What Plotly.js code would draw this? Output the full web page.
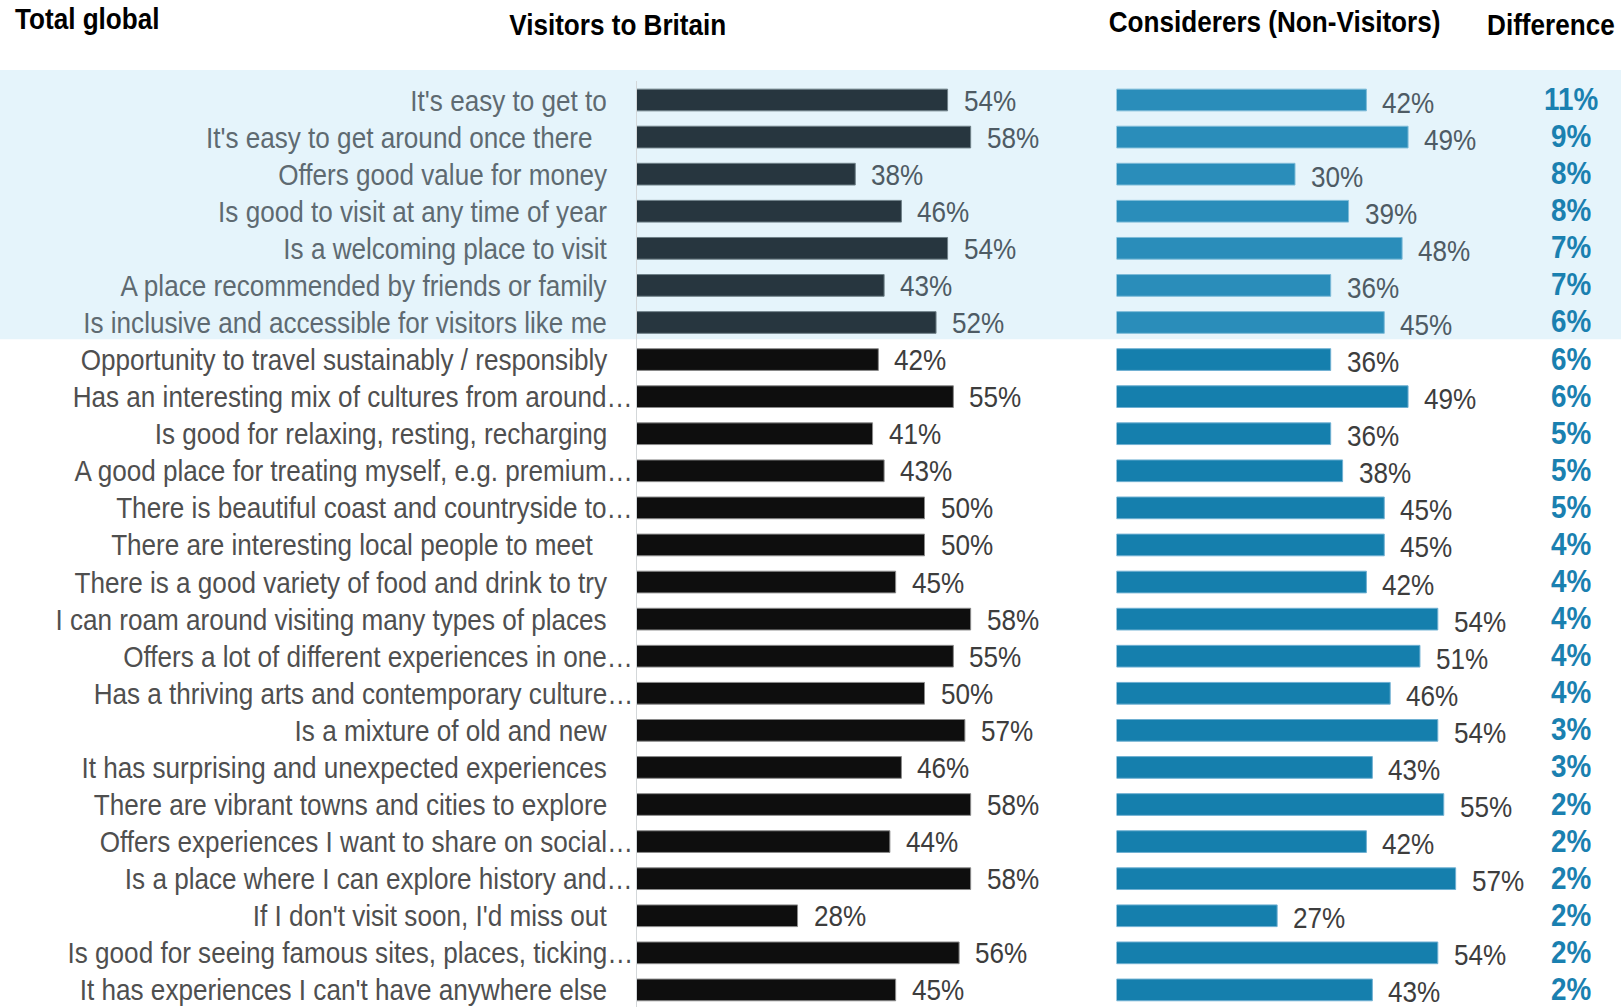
<!DOCTYPE html>
<html>
<head>
<meta charset="utf-8">
<script src="https://cdn.plot.ly/plotly-3.0.1.min.js"></script>
<style>
html,body{margin:0;padding:0;background:#fff;overflow:hidden;}
#chart{width:1621px;height:1007px;}
</style>
</head>
<body>
<div id="chart"></div>
<script>
// ---------------- DATA ----------------
const categories = [
  "It's easy to get to",
  "It's easy to get around once there ",
  "Offers good value for money",
  "Is good to visit at any time of year",
  "Is a welcoming place to visit",
  "A place recommended by friends or family",
  "Is inclusive and accessible for visitors like me",
  "Opportunity to travel sustainably / responsibly",
  "Has an interesting mix of cultures from around…",
  "Is good for relaxing, resting, recharging",
  "A good place for treating myself, e.g. premium…",
  "There is beautiful coast and countryside to…",
  "There are interesting local people to meet ",
  "There is a good variety of food and drink to try",
  "I can roam around visiting many types of places",
  "Offers a lot of different experiences in one…",
  "Has a thriving arts and contemporary culture…",
  "Is a mixture of old and new",
  "It has surprising and unexpected experiences",
  "There are vibrant towns and cities to explore",
  "Offers experiences I want to share on social…",
  "Is a place where I can explore history and…",
  "If I don't visit soon, I'd miss out",
  "Is good for seeing famous sites, places, ticking…",
  "It has experiences I can't have anywhere else"
];
const visitors    = [54,58,38,46,54,43,52,42,55,41,43,50,50,45,58,55,50,57,46,58,44,58,28,56,45];
const considerers = [42,49,30,39,48,36,45,36,49,36,38,45,45,42,54,51,46,54,43,55,42,57,27,54,43];
const difference  = [11,9,8,8,7,7,6,6,6,5,5,5,4,4,4,4,4,3,3,2,2,2,2,2,2];
const highlightCount = 7;
const headerLabels = ["Total global", "Visitors to Britain", "Considerers (Non-Visitors)", "Difference"];

// ---------------- LAYOUT HELPERS ----------------
const W = 1621, H = 1007;
const FONT = "'Liberation Sans', Arial, sans-serif";
const NARROW = 0.87;   // horizontal condensing of all texts (reference uses a narrow face)
const px = v => v / W;
const py = v => 1 - v / H;

const pitch = 37.08, firstRow = 100;
const yTop = -firstRow / pitch;
const yBottom = yTop + H / pitch;

const leftX0 = 636, leftScale = 5.77, xMax = 70;
const rightX0 = 1116.5, rightScale = 5.95;

const isHi = i => i < highlightCount;
const leftColors  = categories.map((c, i) => isHi(i) ? '#27363f' : '#0e0e0e');
const rightColors = categories.map((c, i) => isHi(i) ? '#2a8dba' : '#157fad');
const leftEdge  = categories.map((c, i) => isHi(i) ? '#6f8088' : '#8a8a8a');
const rightEdge = categories.map((c, i) => isHi(i) ? '#7dbbd8' : '#6fb0d2');

const traces = [
  {type:'bar', orientation:'h', x:visitors, y:categories, xaxis:'x', yaxis:'y',
   width:0.585, marker:{color:leftColors, line:{color:leftEdge, width:1}}, hoverinfo:'skip'},
  {type:'bar', orientation:'h', x:considerers, y:categories, xaxis:'x2', yaxis:'y',
   width:0.585, marker:{color:rightColors, line:{color:rightEdge, width:1}}, hoverinfo:'skip'}
];

const annotations = [];
categories.forEach((c, i) => {
  const label = c.replace(/ $/, '\u00a0\u00a0');
  annotations.push({
    xref:'paper', yref:'y', x:px(609), y:c, xanchor:'right', yanchor:'middle', align:'right',
    xshift: c.endsWith('…') ? 26 : 0,
    text:label, showarrow:false,
    font:{family:FONT, size:30, color: isHi(i) ? '#5e6a71' : '#4f4f4f'}
  });
  annotations.push({
    xref:'x', yref:'y', x:visitors[i], y:c, xanchor:'left', yanchor:'middle', align:'left', xshift:14,
    text:visitors[i] + '%', showarrow:false,
    font:{family:FONT, size:30, color: isHi(i) ? '#4e5b64' : '#3d3d3d'}
  });
  annotations.push({
    xref:'x2', yref:'y', x:considerers[i], y:c, xanchor:'left', yanchor:'middle', align:'left', xshift:14, yshift:-2,
    text:considerers[i] + '%', showarrow:false,
    font:{family:FONT, size:30, color: isHi(i) ? '#4e5b64' : '#3d3d3d'}
  });
  annotations.push({
    xref:'paper', yref:'y', x:px(1571), y:c, xanchor:'center', yanchor:'middle', align:'center', yshift:1,
    text:'<b>' + difference[i] + '%</b>', showarrow:false,
    font:{family:FONT, size:32, color:'#1a80b0'}
  });
});
const headerPos = [[13, 'left', 19], [618, 'center', 24], [1274, 'center', 21], [1617, 'right', 24]];
headerLabels.forEach((t, k) => {
  annotations.push({
    xref:'paper', yref:'paper', x:px(headerPos[k][0]), y:py(headerPos[k][2]),
    xanchor:headerPos[k][1], align:headerPos[k][1], yanchor:'middle', text:'<b>' + t + '</b>', showarrow:false,
    font:{family:FONT, size:30, color:'#000000'}
  });
});

const shapes = [
  {type:'rect', xref:'paper', yref:'y', x0:0, x1:1, y0:-0.81, y1:highlightCount - 1 + 0.45,
   fillcolor:'#e5f4fb', line:{width:0}, layer:'below'},
  {type:'line', xref:'x', yref:'y', x0:0, x1:0, y0:-0.51, y1:yBottom,
   line:{color:'#d3d7d9', width:2}, layer:'above'}
];

const layout = {
  width:W, height:H,
  margin:{l:0, r:0, t:0, b:0, pad:0},
  paper_bgcolor:'#ffffff', plot_bgcolor:'rgba(0,0,0,0)',
  showlegend:false, bargap:0,
  font:{family:FONT},
  xaxis:{domain:[px(leftX0), px(leftX0 + leftScale * xMax)], range:[0, xMax], visible:false, fixedrange:true},
  xaxis2:{domain:[px(rightX0), px(rightX0 + rightScale * xMax)], range:[0, xMax], visible:false, anchor:'y', fixedrange:true},
  yaxis:{domain:[0, 1], type:'category', categoryorder:'array', categoryarray:categories,
         range:[yBottom, yTop], visible:false, fixedrange:true},
  annotations:annotations,
  shapes:shapes
};

Plotly.newPlot('chart', traces, layout, {displayModeBar:false, staticPlot:true}).then(gd => {
  // condense every text horizontally, keeping its anchor (start / middle / end)
  gd.querySelectorAll('.annotation-text').forEach(el => {
    const len = el.getComputedTextLength();
    if (len > 0) {
      el.setAttribute('textLength', (len * NARROW).toFixed(2));
      el.setAttribute('lengthAdjust', 'spacingAndGlyphs');
    }
  });
});
</script>
</body>
</html>
